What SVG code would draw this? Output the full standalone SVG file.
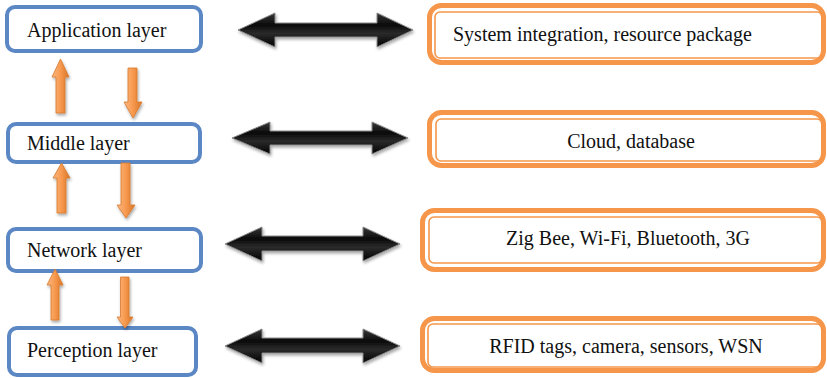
<svg xmlns="http://www.w3.org/2000/svg" width="827" height="378" viewBox="0 0 827 378">
<defs>
<linearGradient id="og" x1="0" y1="0" x2="1" y2="0">
<stop offset="0" stop-color="#fbb985"/>
<stop offset="0.5" stop-color="#f7994f"/>
<stop offset="1" stop-color="#d97526"/>
</linearGradient>
<linearGradient id="bg" x1="0" y1="0" x2="0" y2="1">
<stop offset="0" stop-color="#3a3a3a"/>
<stop offset="0.35" stop-color="#0a0a0a"/>
<stop offset="0.6" stop-color="#2b2b2b"/>
<stop offset="1" stop-color="#000"/>
</linearGradient>
<filter id="sh" x="-20%" y="-40%" width="140%" height="180%">
<feDropShadow dx="1" dy="2" stdDeviation="1.5" flood-color="#000" flood-opacity="0.35"/>
</filter>
</defs>
<style>
.blue{fill:#fff;stroke:#5b87c5;stroke-width:4}
.oout{fill:#fff;stroke:#f5964a;stroke-width:5}
.oin{fill:none;stroke:#f5964a;stroke-width:1.6}
.t{font-family:"Liberation Serif","Times New Roman",serif;font-size:20px;fill:#111}
.oa{fill:url(#og);stroke:#d8782c;stroke-width:0.8;filter:url(#sh)}
.ba{fill:url(#bg);stroke:#8a8a8a;stroke-width:1;filter:url(#sh)}
</style>

<g id="application-layer">
<rect class="blue" x="7" y="7" width="194" height="44" rx="8"/>
<text class="t" x="27" y="37">Application layer</text>
</g>
<g id="middle-layer">
<rect class="blue" x="8" y="124" width="192" height="38" rx="8"/>
<text class="t" x="27" y="150">Middle layer</text>
</g>
<g id="network-layer">
<rect class="blue" x="8" y="229" width="193" height="42" rx="8"/>
<text class="t" x="27" y="257">Network layer</text>
</g>
<g id="perception-layer">
<rect class="blue" x="9" y="328" width="187" height="47" rx="8"/>
<text class="t" x="27" y="357">Perception layer</text>
</g>

<g id="system-integration">
<rect class="oout" x="429.5" y="5.5" width="394" height="57" rx="12"/>
<rect class="oin" x="435" y="12" width="387" height="46" rx="5"/>
<text class="t" x="453" y="41">System integration, resource package</text>
</g>
<g id="cloud-database">
<rect class="oout" x="429.5" y="112.5" width="394" height="53" rx="12"/>
<rect class="oin" x="436" y="119" width="386" height="42" rx="5"/>
<text class="t" x="631" y="148" text-anchor="middle">Cloud, database</text>
</g>
<g id="zigbee-wifi">
<rect class="oout" x="422.5" y="210.5" width="401" height="59" rx="12"/>
<rect class="oin" x="429" y="217" width="393" height="46" rx="5"/>
<text class="t" x="628" y="245" text-anchor="middle">Zig Bee, Wi-Fi, Bluetooth, 3G</text>
</g>
<g id="rfid-tags">
<rect class="oout" x="422.5" y="318.5" width="401" height="52" rx="12"/>
<rect class="oin" x="428" y="324" width="394" height="43" rx="5"/>
<text class="t" x="626" y="353" text-anchor="middle">RFID tags, camera, sensors, WSN</text>
</g>

<g id="connectors">
<!-- orange vertical arrows -->
<polygon class="oa" points="60.5,59 69,77 65,77 65,113 56,113 56,77 52,77"/>
<polygon class="oa" points="128,68 137,68 137,102 142,102 133,118 124,102 128,102"/>
<polygon class="oa" points="61.5,163 70,178 66,178 66,213 57,213 57,178 53,178"/>
<polygon class="oa" points="121,163 130,163 130,205 135,205 126,218 117,205 121,205"/>
<polygon class="oa" points="55,269 63,285 59,285 59,320 51,320 51,285 47,285"/>
<polygon class="oa" points="120.5,277 129,277 129,317 133,317 125,328 117,317 120.5,317"/>
<!-- black double arrows -->
<polygon class="ba" points="238,30 275,13 275,23 377,23 377,13 413,30 377,47 377,37 275,37 275,47"/>
<polygon class="ba" points="232,138 270,122 270,131 372,131 372,122 408,138 372,154 372,145 270,145 270,154"/>
<polygon class="ba" points="225,244 262,227 262,236 363,236 363,227 400,244 363,261 363,251 262,251 262,261"/>
<polygon class="ba" points="225,346 262,329 262,338 363,338 363,329 400,346 363,363 363,353 262,353 262,363"/>
</g>
</svg>
